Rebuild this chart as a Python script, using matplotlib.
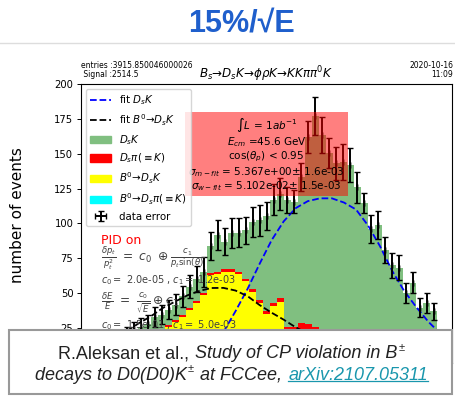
import numpy as np
import matplotlib
matplotlib.use("Agg")
import matplotlib.pyplot as plt
from matplotlib.lines import Line2D

# -----------------------------
# DATA
# -----------------------------
m_lo, m_hi, n_bins = 5.1625, 5.4575, 51

# stacked MC components per bin (left -> right)
b0_dsk = [1.9, 2.8, 3.8, 4.7, 6.6, 8.5, 10.4, 12.3, 14, 16, 19, 22, 25.8, 29.6, 33, 38, 43,
          48.6, 63, 63.5, 65.4, 65.4, 63.5, 58.9, 50.8, 43.2, 35, 40.6, 43.5, 21, 21, 22, 22,
          21, 18, 14, 10, 7, 4, 2, 0, 0, 0, 0, 0, 0, 0, 0, 0, 0, 0]
b0_dspi = [0] * 51
ds_pi = [0.1, 0.2, 0.2, 0.3, 0.4, 0.5, 0.6, 0.7, 1, 1, 1, 1, 1.2, 1.4, 1.5, 1.5, 1.5,
         1.5, 1.5, 1.5, 1.6, 1.6, 1.5, 1.6, 2.2, 2.2, 2.3, 2, 2.8, 5, 5, 6.5, 6,
         5, 4, 3, 3, 2, 1, 1, 0, 0, 0, 0, 0, 0, 0, 0, 0, 0, 0]
ds_k = [5, 6, 7, 8, 9, 9, 10, 11, 11, 11, 13.1, 11.6, 11.2, 10.8, 13.2, 15.1, 15.8,
        15, 19.4, 26.7, 19.9, 25.9, 28.3, 34.5, 48.2, 56.8, 68.1, 74.4, 74.7, 91, 89.6, 104.5, 134,
        151.2, 141.4, 133.3, 130, 135, 137, 122.8, 114.6, 96, 99, 80.9, 70, 68.4, 50.1, 57.6, 39.7, 42.7, 37]

# data points and errors
data = [7, 9, 11, 13, 16, 18, 21, 24, 26, 28, 33.1, 34.6, 38.2, 41.8, 47.7, 54.6, 60.3,
        65.1, 83.9, 91.7, 86.9, 92.9, 93.3, 95, 101.2, 102.2, 105.4, 117, 121, 117, 115.6, 133, 162,
        177.2, 163.4, 150.3, 143, 144, 142, 125.8, 114.6, 96, 99, 80.9, 70, 68.4, 50.1, 57.6, 39.7, 42.7, 37]
data_err = [3, 3.5, 4, 4, 4.5, 5, 5, 5.5, 6, 6, 7, 6.6, 6.6, 7.8, 7.4, 8.4, 9.2,
            10.5, 10.2, 10.8, 9.6, 10.8, 10.4, 9.5, 10.8, 11, 10.2, 11, 11.4, 9.3, 8.4, 10, 11.3,
            13.8, 13.1, 10.8, 12, 13, 12, 11.3, 7.4, 9.8, 9.9, 9.6, 9, 9, 7.4, 7.7, 6.6, 7.2, 6.3]

# fit curves
fit_dsk_m = [5.28, 5.29, 5.30, 5.31, 5.32, 5.33, 5.34, 5.35, 5.36, 5.37,
             5.38, 5.39, 5.40, 5.41, 5.42, 5.43, 5.44, 5.45, 5.46]
fit_dsk_y = [22, 37, 53, 71, 88, 101.5, 111, 116, 118, 118,
             115, 110, 98.5, 83.5, 66, 51.5, 40, 29.5, 21]
fit_b0_m = [5.20, 5.21, 5.22, 5.23, 5.24, 5.25, 5.26, 5.27, 5.28,
            5.29, 5.30, 5.31, 5.32, 5.33, 5.34, 5.35]
fit_b0_y = [23, 28.5, 33.5, 39.5, 44, 48.4, 51.6, 53.7, 53.8,
            51.9, 47.9, 41.5, 36, 31, 25.5, 21]

yticks = [0, 25, 50, 75, 100, 125, 150, 175, 200]

# -----------------------------
# FIGURE
# -----------------------------
W, H = 455, 399
fig = plt.figure(figsize=(W / 100, H / 100), dpi=100)
ax = fig.add_axes([81 / W, 1 - 362.9 / H, 371 / W, 278.9 / H])

edges = np.linspace(m_lo, m_hi, n_bins + 1)
centers = 0.5 * (edges[:-1] + edges[1:])

green = "#80bf80"
ax.hist([centers] * 4, bins=edges, weights=[b0_dsk, b0_dspi, ds_pi, ds_k],
        stacked=True, histtype="stepfilled", lw=0,
        color=["yellow", "cyan", "red", green], zorder=1)

l_dsk, = ax.plot(fit_dsk_m, fit_dsk_y, "--", color="blue", lw=1.3, zorder=2)
l_b0, = ax.plot(fit_b0_m, fit_b0_y, "--", color="black", lw=1.3, zorder=2)

eb = ax.errorbar(centers, data, yerr=data_err, xerr=np.zeros(len(data)), fmt="none",
                 ecolor="black", elinewidth=1.4, capsize=2, capthick=1, zorder=2)

ax.set_xlim(5.1619, 5.4696)
ax.set_ylim(0, 200)
ax.set_yticks(yticks)
ax.tick_params(labelsize=7.2, length=3, pad=2.5, width=0.7)
ax.set_ylabel("number of events", fontsize=11)
ax.yaxis.set_label_coords(-0.152, 0.53)

ax.set_title(r"$B_s$→$D_sK$→$\phi\rho K$→$KK\pi\pi^0K$", fontsize=8.6, pad=3)

# info box
info = ("$\\int L\\,=\\,1ab^{-1}$\n"
        "$E_{cm}$ =45.6 GeV\n"
        "cos($\\theta_p$) < 0.95\n"
        "$\\sigma_{m-fit}$ = 5.367e+00$\\pm$ 1.6e-03\n"
        "$\\sigma_{w-fit}$ = 5.102e-02$\\pm$ 1.5e-03")
ax.text(0.5, 0.746, info, transform=ax.transAxes, ha="center", va="center",
        fontsize=7.5, linespacing=1.08, zorder=4,
        bbox=dict(facecolor="red", alpha=0.5, edgecolor="none", boxstyle="square,pad=0.3"))

# resolution texts
ax.text(0.054, 0.44, "PID on", color="red", fontsize=9, transform=ax.transAxes, va="center")
gray = "#404040"
ax.text(0.054, 0.376, r"$\frac{\delta p_t}{p_t^2}\ =\ c_0\ \oplus \frac{c_1}{p_t\sin(\theta)}$",
        color=gray, fontsize=8.8, transform=ax.transAxes, va="center")
ax.text(0.054, 0.297, r"$c_0 =$ 2.0e-05 , $c_1 =$ 1.2e-03",
        color=gray, fontsize=7, transform=ax.transAxes, va="center")
ax.text(0.054, 0.218, r"$\frac{\delta E}{E}\ =\ \frac{c_0}{\sqrt{E}} \oplus c_1$",
        color=gray, fontsize=8.8, transform=ax.transAxes, va="center")
ax.text(0.054, 0.136, r"$c_0 =$ 1.5e-01 , $c_1 =$ 5.0e-03",
        color=gray, fontsize=7, transform=ax.transAxes, va="center")

# legend
hist_handles = [plt.Rectangle((0, 0), 1, 1, color=c) for c in [green, "red", "yellow", "cyan"]]
handles = [l_dsk, l_b0] + hist_handles + [eb]
labels = ["fit $D_sK$", "fit $B^0$→$D_sK$", "$D_sK$", r"$D_s\pi(\equiv K)$",
          "$B^0$→$D_sK$", r"$B^0$→$D_s\pi(\equiv K)$", "data error"]
leg = ax.legend(handles, labels, loc="upper left", fontsize=7.4, framealpha=0.8)
leg.set_zorder(5)

# small header texts
fig.text(81 / W, 1 - 70 / H, "entries :3915.850046000026\n Signal :2514.5",
         fontsize=5.5, va="center", ha="left", linespacing=1.1)
fig.text(453 / W, 1 - 70 / H, "2020-10-16\n11:09", fontsize=5.5, va="center",
         ha="right", multialignment="right", linespacing=1.1)

# -----------------------------
# SLIDE ELEMENTS
# -----------------------------
fig.text(241 / W, 1 - 23 / H, "15%/√E", fontsize=22, fontweight="bold", color="#1f5fcc",
         ha="center", va="center", family=["Liberation Sans", "DejaVu Sans"])
fig.add_artist(Line2D([0, 1], [1 - 43 / H] * 2, color="#dddddd", lw=1))

# caption box
fig.add_artist(plt.Rectangle((9 / W, 1 - 394 / H), 443 / W, 64 / H, facecolor="white",
                             edgecolor="#999999", lw=1.5, zorder=10))

cap_font = ["Liberation Sans", "DejaVu Sans"]
dark = "#222222"
link = "#1a97ad"
fs = 13


def draw_line(pieces, cy, cx=232):
    r = fig.canvas.get_renderer()
    made = []
    for txt, style, color, sup in pieces:
        size = fs * 0.62 if sup else fs
        t = fig.text(0, 0, txt, fontsize=size, style=style, color=color,
                     family=cap_font, va="baseline", ha="left", zorder=11)
        w = t.get_window_extent(r).width
        made.append((t, w, sup, color))
    total = sum(w for _, w, _, _ in made) + len(made)
    x = cx - total / 2
    base = cy + fs * 0.36 * 100 / 72
    for t, w, sup, color in made:
        yb = base - (fs * 0.40 * 100 / 72 if sup else 0)
        t.set_position((x / W, 1 - yb / H))
        if color == link:
            fig.add_artist(Line2D([x / W, (x + w) / W], [1 - (yb + 1.8) / H] * 2,
                                  color=link, lw=0.9, zorder=11))
        x += w + 1


draw_line([("R.Aleksan et al., ", "normal", dark, False),
           ("Study of CP violation in B", "italic", dark, False),
           ("±", "italic", dark, True)], 352)
draw_line([("decays to D0(D0)K", "italic", dark, False),
           ("±", "italic", dark, True),
           (" at FCCee, ", "italic", dark, False),
           ("arXiv:2107.05311", "italic", link, False)], 373)

fig.savefig("out.png", dpi=100)
